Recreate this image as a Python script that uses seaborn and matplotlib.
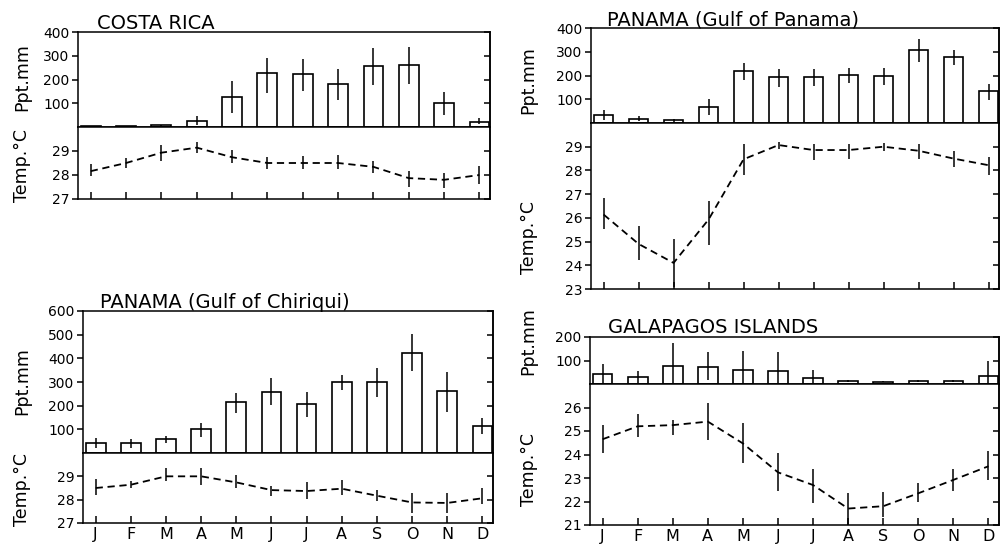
import numpy as np
import pandas as pd
import matplotlib
matplotlib.use("Agg")
import matplotlib.pyplot as plt
import seaborn as sns

# ---------------- data ----------------
months = ["J", "F", "M", "A", "M", "J", "J", "A", "S", "O", "N", "D"]

cr_ppt = [4, 3, 7, 26, 126, 226, 224, 182, 256, 260, 99, 22]
cr_ppt_lo = [2, 1, 3, 8, 60, 143, 151, 112, 175, 182, 50, 12]
cr_ppt_hi = [6, 5, 10, 47, 193, 289, 285, 246, 331, 335, 147, 40]
cr_temp = [28.16, 28.5, 28.93, 29.14, 28.74, 28.5, 28.5, 28.5, 28.34, 27.87, 27.8, 28.0]
cr_temp_lo = [27.94, 28.31, 28.6, 28.93, 28.51, 28.23, 28.23, 28.27, 28.1, 27.51, 27.44, 27.63]
cr_temp_hi = [28.46, 28.7, 29.24, 29.39, 29.03, 28.74, 28.81, 28.84, 28.6, 28.16, 28.09, 28.37]

ch_ppt = [41, 41, 59, 100, 214, 259, 208, 299, 300, 424, 262, 114]
ch_ppt_lo = [20, 20, 41, 69, 170, 203, 154, 266, 235, 346, 175, 80]
ch_ppt_hi = [62, 59, 73, 128, 252, 318, 259, 330, 361, 501, 344, 148]
ch_temp = [28.5, 28.64, 29.0, 29.0, 28.74, 28.41, 28.37, 28.47, 28.17, 27.88, 27.86, 28.06]
ch_temp_lo = [28.22, 28.5, 28.8, 28.64, 28.5, 28.17, 28.03, 28.2, 27.96, 27.43, 27.43, 27.83]
ch_temp_hi = [28.88, 28.8, 29.35, 29.35, 29.07, 28.57, 28.74, 28.86, 28.43, 28.3, 28.3, 28.5]

pa_ppt = [33, 18, 11, 68, 219, 194, 195, 202, 197, 308, 277, 134]
pa_ppt_lo = [11, 8, 6, 33, 181, 150, 156, 170, 160, 255, 245, 96]
pa_ppt_hi = [54, 28, 15, 99, 252, 228, 227, 233, 231, 355, 308, 164]
pa_temp = [26.14, 24.9, 24.1, 25.93, 28.47, 29.07, 28.86, 28.86, 29.0, 28.83, 28.5, 28.22]
pa_temp_lo = [25.53, 24.22, 23.1, 24.85, 27.8, 28.9, 28.46, 28.5, 28.8, 28.5, 28.15, 27.8]
pa_temp_hi = [26.84, 25.65, 25.1, 26.73, 29.1, 29.2, 29.1, 29.13, 29.17, 29.13, 28.83, 28.57]

ga_ppt = [44, 28, 75, 71, 58, 57, 26, 11, 10, 11, 11, 35]
ga_ppt_lo = [0, 4, 4, 18, 0, 4, 4, 7, 7, 7, 7, 0]
ga_ppt_hi = [87, 54, 174, 135, 142, 135, 61, 16, 14, 16, 16, 99]
ga_temp = [24.65, 25.2, 25.25, 25.4, 24.47, 23.24, 22.7, 21.7, 21.8, 22.35, 22.92, 23.5]
ga_temp_lo = [24.05, 24.76, 24.83, 24.6, 23.63, 22.43, 21.93, 21.0, 21.35, 21.96, 22.43, 22.92]
ga_temp_hi = [25.25, 25.72, 25.47, 26.19, 25.33, 24.05, 23.4, 22.35, 22.4, 22.77, 23.38, 24.15]

titles = ["COSTA RICA", "PANAMA (Gulf of Chiriqui)",
          "PANAMA (Gulf of Panama)", "GALAPAGOS ISLANDS"]

# ---------------- style ----------------
sns.set_style("ticks")
plt.rcParams["font.family"] = ["DejaVu Sans"]
plt.rcParams["axes.linewidth"] = 1.1
for k in ("text.color", "axes.labelcolor", "xtick.color", "ytick.color",
          "axes.edgecolor"):
    plt.rcParams[k] = "black"

W, H = 1002, 548
fig = plt.figure(figsize=(W / 100, H / 100), dpi=100)


def rect(x0, y0, x1, y1):
    return [x0 / W, 1 - y1 / H, (x1 - x0) / W, (y1 - y0) / H]


TICK_FS = 10
LAB_FS = 12.5


def station(bar_box, temp_box, ppt, plo, phi, temp, tlo, thi,
            pmax, pticks, tmin, tmax, tticks, title, title_xy,
            ppt_lab_xy, temp_lab_xy, show_months):
    idx = np.arange(len(months))
    axb = fig.add_axes(rect(*bar_box))
    axt = fig.add_axes(rect(*temp_box))

    dfb = pd.DataFrame({"m": idx, "ppt": ppt})
    sns.barplot(data=dfb, x="m", y="ppt", ax=axb, color="white",
                edgecolor="black", linewidth=1.2, width=0.56,
                errorbar=None, native_scale=True)
    axb.vlines(idx, plo, phi, color="black", lw=1.1, zorder=5)

    dft = pd.DataFrame({"m": idx, "t": temp})
    sns.lineplot(data=dft, x="m", y="t", ax=axt, color="black", lw=1.3)
    for ln in axt.get_lines():
        ln.set_dashes((4, 2.6))
    axt.vlines(idx, tlo, thi, color="black", lw=1.1, zorder=5)

    for ax in (axb, axt):
        ax.set_xlim(-0.36, 11.3)
        ax.set_xlabel("")
        ax.set_ylabel("")
        for s in ax.spines.values():
            s.set_visible(True)
            s.set_linewidth(1.1)
            s.set_color("black")

    axb.set_ylim(0, pmax)
    axb.set_yticks(pticks)
    axb.set_yticklabels([str(v) for v in pticks], fontsize=TICK_FS)
    axb.tick_params(axis="x", bottom=False, labelbottom=False)
    axb.tick_params(axis="y", direction="out", length=4, width=1.1,
                    left=True, right=False, pad=2)

    axt.set_ylim(tmin, tmax)
    axt.set_yticks(tticks)
    axt.set_yticklabels([str(v) for v in tticks], fontsize=TICK_FS)
    axt.tick_params(axis="y", direction="out", length=4, width=1.1,
                    left=True, right=False, pad=2)
    axt.set_xticks(idx)
    axt.tick_params(axis="x", direction="in", length=5, width=1.1,
                    bottom=True, top=False)
    if show_months:
        axt.set_xticklabels(months, fontsize=11.5)
        axt.tick_params(axis="x", pad=3)
    else:
        axt.tick_params(axis="x", labelbottom=False)

    # inward ticks on the right side
    for ax, ticks in ((axb, pticks), (axt, tticks)):
        sec = ax.secondary_yaxis("right")
        sec.set_yticks(ticks)
        sec.tick_params(direction="in", length=4, width=1.1, labelright=False)
        sec.spines["right"].set_linewidth(1.1)

    fig.text(title_xy[0] / W, 1 - title_xy[1] / H, title, fontsize=14,
             ha="left", va="baseline")
    fig.text(ppt_lab_xy[0] / W, 1 - ppt_lab_xy[1] / H, "Ppt.mm",
             fontsize=LAB_FS, rotation=90, ha="center", va="center")
    fig.text(temp_lab_xy[0] / W, 1 - temp_lab_xy[1] / H, "Temp.°C",
             fontsize=LAB_FS, rotation=90, ha="center", va="center")


station((78, 32, 490, 127), (78, 127, 490, 199),
        cr_ppt, cr_ppt_lo, cr_ppt_hi, cr_temp, cr_temp_lo, cr_temp_hi,
        400, [100, 200, 300, 400], 27, 30, [27, 28, 29],
        titles[0], (97, 29), (22, 77), (22, 165), False)

station((83, 311, 493, 453), (83, 453, 493, 523),
        ch_ppt, ch_ppt_lo, ch_ppt_hi, ch_temp, ch_temp_lo, ch_temp_hi,
        600, [100, 200, 300, 400, 500, 600], 27, 30, [27, 28, 29],
        titles[1], (100, 308), (22, 381), (22, 490), True)

station((591, 28, 999, 123), (591, 123, 999, 289),
        pa_ppt, pa_ppt_lo, pa_ppt_hi, pa_temp, pa_temp_lo, pa_temp_hi,
        400, [100, 200, 300, 400], 23, 30, [23, 24, 25, 26, 27, 28, 29],
        titles[2], (607, 26), (528, 80), (529, 238), False)

station((590, 337, 999, 384), (590, 384, 999, 525),
        ga_ppt, ga_ppt_lo, ga_ppt_hi, ga_temp, ga_temp_lo, ga_temp_hi,
        200, [100, 200], 21, 27, [21, 22, 23, 24, 25, 26],
        titles[3], (608, 333), (528, 341), (529, 469), True)

fig.savefig("out.png", dpi=100)
